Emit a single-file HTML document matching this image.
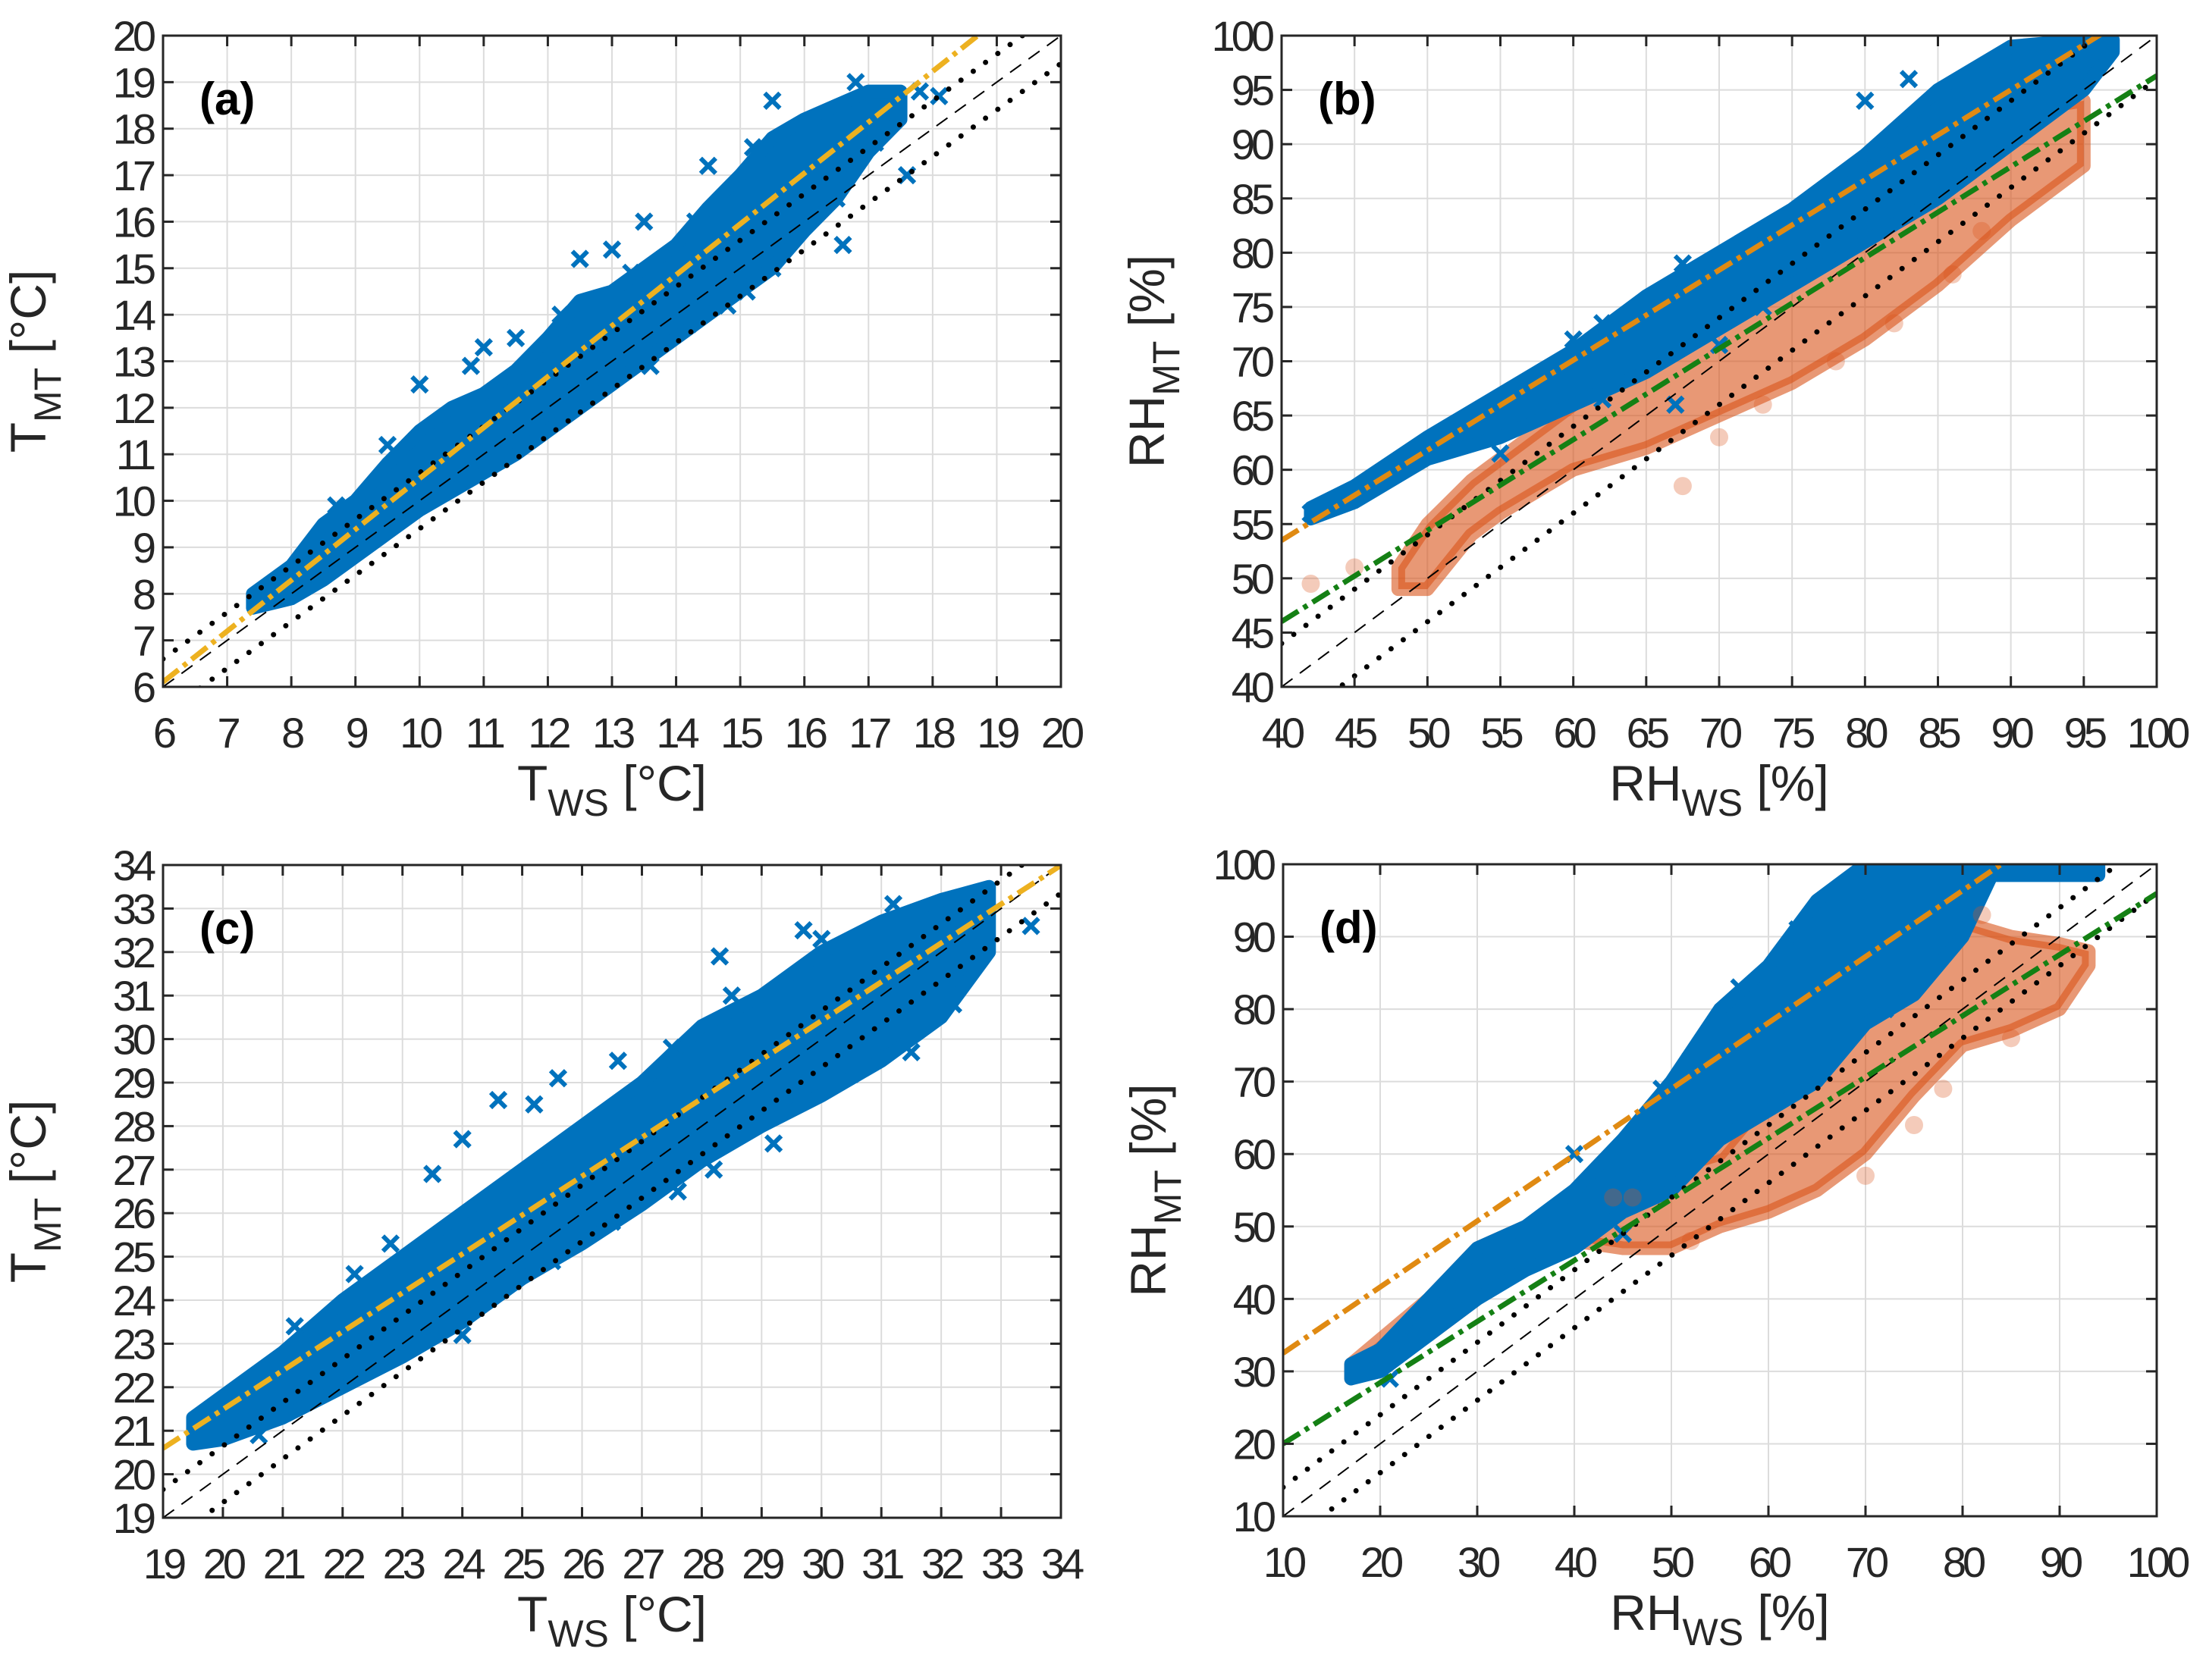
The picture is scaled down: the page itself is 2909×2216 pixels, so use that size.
<!DOCTYPE html>
<html><head><meta charset="utf-8"><style>
html,body{margin:0;padding:0;background:#fff;}
svg{display:block;font-family:"Liberation Sans",sans-serif;}
</style></head><body>
<svg id="fig" width="2909" height="2216" viewBox="0 0 2909 2216" xmlns="http://www.w3.org/2000/svg"></svg>
<script>
// ---------- data ----------
const aBlueEnv = [[7.4,7.7,8.0],[8,7.9,8.6],[8.5,8.3,9.5],[9,8.8,10.0],[9.5,9.3,10.8],[10,9.8,11.5],[10.5,10.2,12.0],[11,10.6,12.3],[11.5,11.0,12.8],[12,11.5,13.5],[12.5,12.0,14.3],[13,12.5,14.5],[13.5,13.0,15.0],[14,13.5,15.5],[14.5,14.0,16.3],[15,14.5,17.0],[15.5,15.0,17.8],[16,15.8,18.2],[16.5,16.5,18.5],[17,17.5,18.8],[17.5,18.2,18.8]];
const aBlueOut = [[10,12.5],[11,13.3],[11.5,13.5],[12.5,15.2],[13,15.4],[13.5,16],[14.5,17.2],[15.5,18.6],[16.6,15.5],[15.5,15],[15.1,14.5],[14.8,14.2],[14.2,13.8],[13.6,12.9],[17.6,17],[16.8,19],[18.1,18.7],[17.8,18.8],[16.5,16.5],[17.1,17.7],[9.5,11.2],[8.7,9.9],[10.8,12.9],[12.2,14.0],[13.3,14.9],[14.3,16.0],[15.2,17.6],[16.2,18.0],[12.7,13.0],[11.3,11.0],[10.3,10.3],[9.2,9.2],[16.3,17.0],[15.8,16.2],[14.6,15.2],[9.8,10.9],[11.6,12.6]];
const aFit = [1.094, -0.46];
const bBlueEnv = [[42,55.5,56.5],[45,57,58.5],[50,61,63],[55,63,67],[60,66,71],[65,69,76],[70,73,80],[75,77,84],[80,81,89],[85,85,95],[90,90,99],[95,95,99.6],[97,98.5,99.6]];
const bBlueOut = [[42,56],[44.5,57.5],[60,72],[62,73.5],[67,66],[67.5,79],[80,94],[83,96],[52,63.5],[57,67.5],[64,73],[72,80.5],[77,85],[82,90],[70,71.5],[73,75],[55,61.5],[62,66.5]];
const bRedEnv = [[48,49,51],[50,49,55],[53,54,59],[55,56,61],[60,60,66],[65,62,70],[70,65,73],[75,68,78],[80,72,84],[85,77,89],[90,83,93],[95,88,94]];
const bRedOut = [[42,49.5],[45,51],[67.5,58.5],[70,63],[82,73.5],[86,78],[78,70],[88,82],[73,66]];
const bFitBlue = [0.83, 20.3];
const bFitRed = [0.838, 12.5];
const cBlueEnv = [[19.5,20.7,21.3],[20,20.8,21.8],[21,21.3,22.8],[22,22.0,24.0],[23,22.7,25.0],[24,23.5,26.0],[25,24.5,27.0],[26,25.3,28.0],[27,26.2,29.0],[28,27.2,30.3],[29,28.0,31.0],[30,28.7,32.0],[31,29.5,32.7],[32,30.5,33.2],[32.8,32.0,33.5]];
const cBlueOut = [[24,27.7],[24.6,28.6],[25.6,29.1],[26.6,29.5],[28.3,31.9],[29.7,32.5],[30,32.3],[33.5,32.6],[31.5,29.7],[32.2,30.8],[29.2,27.6],[24,23.2],[20.6,20.9],[23.5,26.9],[25.2,28.5],[21.2,23.4],[22.2,24.6],[22.8,25.3],[27.5,29.8],[28.5,31],[31.2,33.1],[26.5,25.8],[27.6,26.5],[25.5,24.9],[30.5,29.2],[28.2,27.0]];
const cFit = [0.893, 3.63];
const dBlueEnv = [[17,29,31],[20,30,33],[25,35,40],[30,40,47],[35,44,50],[40,47,55],[45,52,62],[50,55,70],[55,62,80],[60,66,86],[65,70,95],[70,78,100],[75,82,100],[80,90,100],[83,98.5,100],[94,98.5,100]];
const dBlueOut = [[40,60],[49,69],[63,91],[21,29],[38,47],[43,52],[47,57],[52,73],[57,83],[45,49],[67,76],[72,80]];
const dRedEnv = [[17,29,31],[25,35,40],[30,40,47],[35,45,50],[40,48,53],[45,47,56],[50,47,58],[55,50,60],[60,52,68],[65,55,75],[70,60,85],[75,68,88],[80,75,92],[85,77,90],[90,80,89],[93,86,88]];
const dRedOut = [[82,93],[75,64],[78,69],[44,54],[46,54],[52,48],[70,57],[85,76]];
const dFitBlue = [0.912, 23.4];
const dFitRed = [0.844, 11.56];

const ticksA = [6,7,8,9,10,11,12,13,14,15,16,17,18,19,20];
const ticksB = [40,45,50,55,60,65,70,75,80,85,90,95,100];
const ticksC = [19,20,21,22,23,24,25,26,27,28,29,30,31,32,33,34];
const ticksD = [10,20,30,40,50,60,70,80,90,100];

const NS = "http://www.w3.org/2000/svg";
const svg = document.getElementById('fig');
function mk(tag, attrs, parent){const e=document.createElementNS(NS,tag);for(const k in attrs)e.setAttribute(k,attrs[k]);(parent||svg).appendChild(e);return e;}

const BLUE='#0072BD', RED='#D95319';

function panel(cfg){
  const g = mk('g',{});
  
  
  const {L,R,T,B,min,max,ticks} = cfg;
  const sx = v => L + (v-min)/(max-min)*(R-L);
  const sy = v => B - (v-min)/(max-min)*(B-T);
  const clipId='clip'+cfg.id;
  const cp = mk('clipPath',{id:clipId},g); mk('rect',{x:L,y:T,width:R-L,height:B-T},cp);
  ticks.forEach(t=>{
    const gx=mk('line',{x1:sx(t),x2:sx(t),y1:T,y2:B,stroke:'#dcdcdc','stroke-width':2},g);
    
    
    const gy=mk('line',{x1:L,x2:R,y1:sy(t),y2:sy(t),stroke:'#dcdcdc','stroke-width':2},g);
    
    
  });
  const plot = mk('g',{'clip-path':'url(#'+clipId+')'},g);
  function env(arr,color,op,name){
    let pts = arr.map(d=>sx(d[0])+','+sy(d[2]));
    pts = pts.concat(arr.slice().reverse().map(d=>sx(d[0])+','+sy(d[1])));
    const p=mk('polygon',{points:pts.join(' '),fill:color,'fill-opacity':op,stroke:color,'stroke-opacity':op,'stroke-width':18,'stroke-linejoin':'round'},plot);
    
    
  }
  function xs(arr,name){
    arr.forEach(d=>{
      const x=sx(d[0]),y=sy(d[1]),s=10;
      const p=mk('path',{d:`M${x-s},${y-s}L${x+s},${y+s}M${x-s},${y+s}L${x+s},${y-s}`,stroke:BLUE,'stroke-width':6},plot);
      
      
    });
  }
  function circ(arr,name){
    arr.forEach(d=>{
      const c=mk('circle',{cx:sx(d[0]),cy:sy(d[1]),r:12,fill:RED,'fill-opacity':0.3},plot);
      
      
    });
  }
  if(cfg.redEnv){env(cfg.redEnv,RED,0.6,'red-circle-cloud');}
  env(cfg.blueEnv,BLUE,1,'blue-cross-cloud');
  xs(cfg.blueOut,'blue-cross-point');
  if(cfg.redOut) circ(cfg.redOut,'red-circle-point');
  function line(f,attrs,name){
    const l=mk('line',Object.assign({x1:sx(min),y1:sy(f(min)),x2:sx(max),y2:sy(f(max))},attrs),plot);
    
    
  }
  const off=cfg.band;
  line(v=>v,{stroke:'#000','stroke-width':2,'stroke-dasharray':'18 12'},'identity-line');
  line(v=>v+off,{stroke:'#000','stroke-width':7,'stroke-dasharray':'0 20','stroke-linecap':'round'},'upper-bound-line');
  line(v=>v-off,{stroke:'#000','stroke-width':7,'stroke-dasharray':'0 20','stroke-linecap':'round'},'lower-bound-line');
  line(v=>cfg.fit1[0]*v+cfg.fit1[1],{stroke:cfg.fit1c,'stroke-width':7,'stroke-dasharray':'26 8 6 8'},'fit-line-cross');
  if(cfg.fit2) line(v=>cfg.fit2[0]*v+cfg.fit2[1],{stroke:'#148014','stroke-width':7,'stroke-dasharray':'26 8 6 8'},'fit-line-circle');
  ticks.forEach(t=>{
    mk('line',{x1:sx(t),x2:sx(t),y1:B,y2:B-14,stroke:'#262626','stroke-width':3},g);
    mk('line',{x1:sx(t),x2:sx(t),y1:T,y2:T+14,stroke:'#262626','stroke-width':3},g);
    mk('line',{x1:L,x2:L+14,y1:sy(t),y2:sy(t),stroke:'#262626','stroke-width':3},g);
    mk('line',{x1:R,x2:R-14,y1:sy(t),y2:sy(t),stroke:'#262626','stroke-width':3},g);
    const tx=mk('text',{x:sx(t),y:B+80,'text-anchor':'middle','font-size':56,fill:'#262626','letter-spacing':-5},g);
    tx.textContent=t;
    
    
    const ty=mk('text',{x:L-14,y:sy(t)+20,'text-anchor':'end','font-size':56,fill:'#262626','letter-spacing':-5},g);
    ty.textContent=t;
    
    
  });
  const box=mk('rect',{x:L,y:T,width:R-L,height:B-T,fill:'none',stroke:'#262626','stroke-width':3},g);
  
  
  const lab=mk('text',{x:L+48,y:T+104,'font-size':60,'font-weight':'bold',fill:'#000'},g);
  lab.textContent='('+cfg.id+')';
  
  
  const xl=mk('text',{x:(L+R)/2,y:B+150,'text-anchor':'middle','font-size':66,fill:'#262626'},g);
  xl.innerHTML=cfg.q+'<tspan font-size="50" dy="20">WS</tspan><tspan dy="-20"> '+cfg.unit+'</tspan>';
  
  
  const cy=(T+B)/2, cx=L-155;
  const yl=mk('text',{x:cx,y:cy,'text-anchor':'middle','font-size':66,fill:'#262626',transform:`rotate(-90 ${cx} ${cy})`},g);
  yl.innerHTML=cfg.q+'<tspan font-size="50" dy="20">MT</tspan><tspan dy="-20"> '+cfg.unit+'</tspan>';
  
  
}

panel({id:'a',L:215,R:1399,T:47,B:906,min:6,max:20,ticks:ticksA,blueEnv:aBlueEnv,blueOut:aBlueOut,fit1:aFit,fit1c:'#EDB120',band:0.6,q:'T',unit:'[°C]'});
panel({id:'b',L:1690,R:2844,T:47,B:906,min:40,max:100,ticks:ticksB,blueEnv:bBlueEnv,blueOut:bBlueOut,redEnv:bRedEnv,redOut:bRedOut,fit1:bFitBlue,fit1c:'#E08A12',fit2:bFitRed,band:4,q:'RH',unit:'[%]'});
panel({id:'c',L:215,R:1399,T:1141,B:2002,min:19,max:34,ticks:ticksC,blueEnv:cBlueEnv,blueOut:cBlueOut,fit1:cFit,fit1c:'#EDB120',band:0.65,q:'T',unit:'[°C]'});
panel({id:'d',L:1692,R:2844,T:1140,B:2000,min:10,max:100,ticks:ticksD,blueEnv:dBlueEnv,blueOut:dBlueOut,redEnv:dRedEnv,redOut:dRedOut,fit1:dFitBlue,fit1c:'#E08A12',fit2:dFitRed,band:4,q:'RH',unit:'[%]'});
</script>
</body></html>
